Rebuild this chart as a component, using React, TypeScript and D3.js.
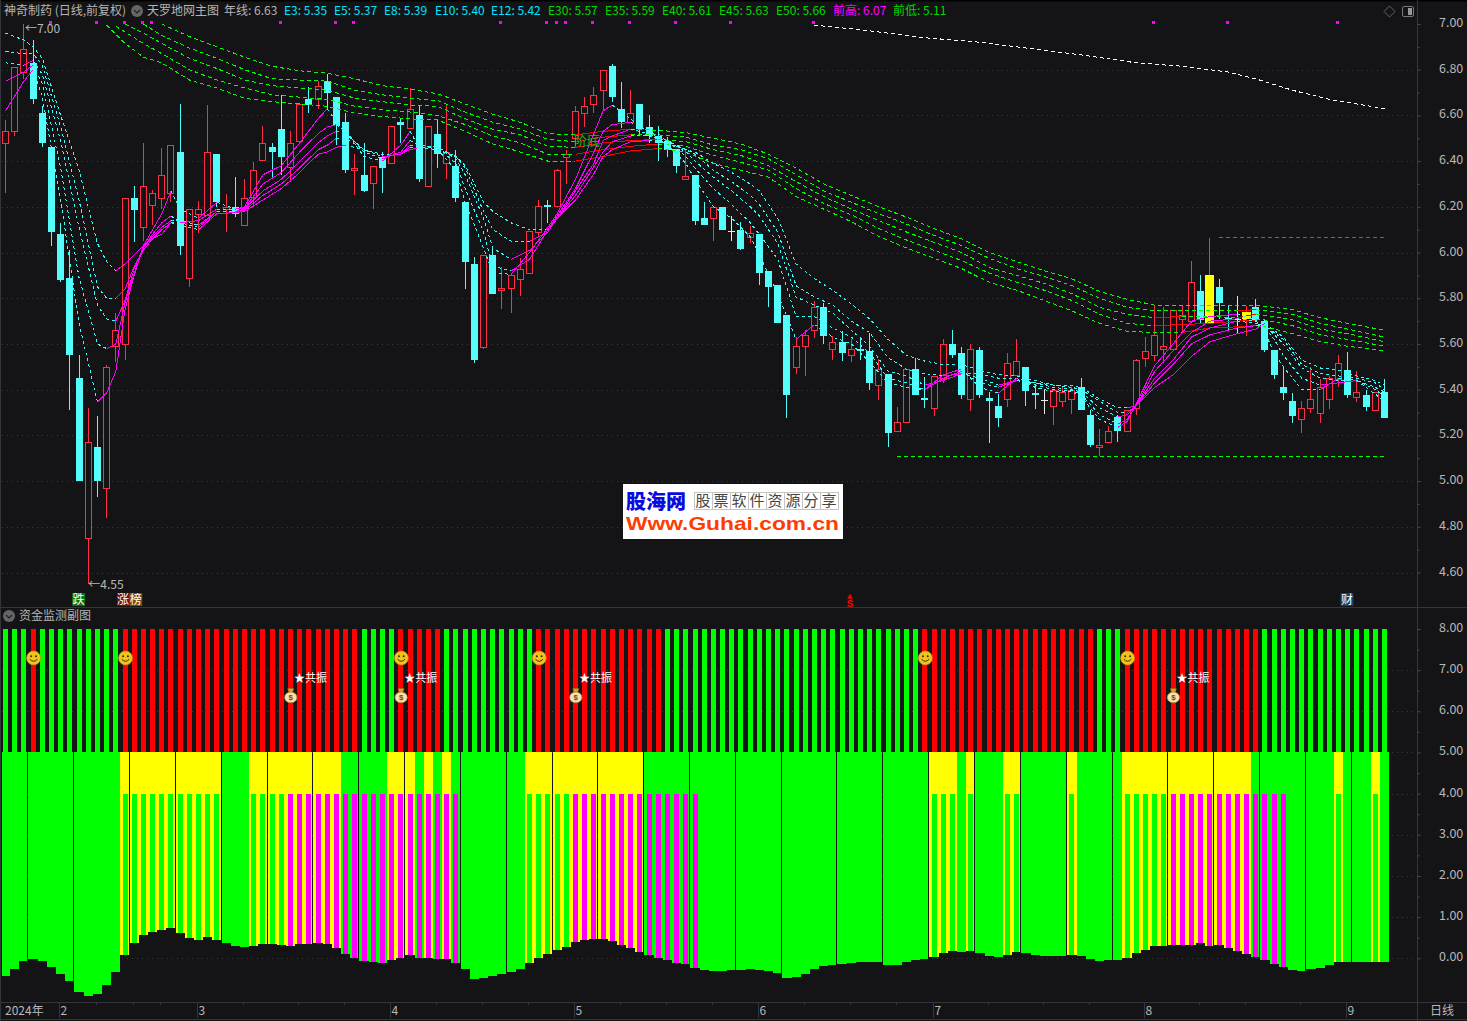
import { useEffect, useRef } from "react";
import * as d3 from "d3";

const opens = [6.48,6.53,6.79,6.83,6.61,6.46,6.08,5.89,5.45,4.75,5.15,4.97,5.59,5.60,6.24,6.11,6.21,6.24,6.26,6.44,5.89,6.17,6.165,6.43,6.19,6.20,6.12,6.245,6.405,6.46,6.54,6.375,6.49,6.67,6.67,6.75,6.68,6.57,6.36,6.34,6.305,6.42,6.39,6.57,6.545,6.60,6.29,6.52,6.39,6.38,6.22,5.95,5.585,5.99,5.835,5.845,5.885,5.91,6.09,6.21,6.205,6.42,6.50,6.61,6.65,6.71,6.815,6.63,6.57,6.65,6.55,6.51,6.49,6.455,6.32,6.34,6.15,6.15,6.20,6.095,6.10,6.07,6.08,5.92,5.86,5.725,5.50,5.59,5.66,5.76,5.58,5.61,5.55,5.58,5.57,5.42,5.47,5.22,5.26,5.49,5.365,5.32,5.45,5.60,5.56,5.36,5.575,5.365,5.33,5.36,5.465,5.50,5.385,5.355,5.33,5.35,5.36,5.41,5.29,5.15,5.17,5.28,5.22,5.32,5.54,5.55,5.58,5.58,5.71,5.70,5.83,5.69,5.85,5.715,5.71,5.71,5.76,5.70,5.575,5.41,5.35,5.27,5.32,5.30,5.36,5.445,5.485,5.37,5.375,5.31,5.39];
const closes = [6.53,6.81,6.89,6.67,6.48,6.09,5.88,5.55,5.00,5.17,5.00,5.50,5.66,6.24,6.185,6.29,6.26,6.34,6.47,6.03,6.19,6.19,6.44,6.22,6.20,6.17,6.24,6.36,6.48,6.44,6.42,6.48,6.65,6.645,6.73,6.70,6.56,6.36,6.37,6.27,6.38,6.37,6.555,6.56,6.63,6.32,6.555,6.43,6.44,6.24,5.96,5.53,5.99,5.82,5.845,5.90,5.93,6.095,6.205,6.20,6.36,6.43,6.62,6.64,6.69,6.80,6.68,6.57,6.61,6.54,6.51,6.48,6.45,6.38,6.335,6.14,6.12,6.20,6.10,6.095,6.015,6.085,5.91,5.85,5.69,5.375,5.59,5.64,5.76,5.635,5.61,5.56,5.58,5.57,5.43,5.49,5.21,5.26,5.49,5.375,5.36,5.46,5.60,5.55,5.375,5.58,5.375,5.35,5.275,5.515,5.525,5.395,5.38,5.355,5.40,5.39,5.40,5.31,5.16,5.16,5.22,5.22,5.31,5.53,5.57,5.64,5.59,5.75,5.725,5.87,5.705,5.90,5.78,5.71,5.71,5.74,5.705,5.575,5.465,5.385,5.285,5.32,5.36,5.41,5.45,5.515,5.375,5.39,5.325,5.39,5.275];
const highs = [6.58,6.81,7.00,6.93,6.64,6.46,6.13,6.01,5.55,5.32,5.285,5.51,5.735,6.24,6.29,6.48,6.275,6.457,6.47,6.65,6.19,6.225,6.645,6.43,6.255,6.33,6.32,6.395,6.555,6.48,6.69,6.53,6.65,6.725,6.75,6.78,6.68,6.61,6.43,6.48,6.38,6.44,6.555,6.59,6.72,6.64,6.555,6.585,6.645,6.45,6.22,5.98,5.99,6.02,5.935,5.90,5.975,6.095,6.23,6.23,6.365,6.45,6.64,6.68,6.725,6.80,6.825,6.745,6.71,6.65,6.60,6.555,6.505,6.455,6.45,6.34,6.22,6.20,6.20,6.16,6.135,6.115,6.08,5.92,5.86,5.725,5.63,5.66,5.79,5.78,5.635,5.655,5.62,5.63,5.65,5.535,5.47,5.325,5.49,5.54,5.455,5.46,5.62,5.66,5.585,5.60,5.585,5.39,5.38,5.56,5.62,5.50,5.425,5.405,5.40,5.41,5.41,5.45,5.31,5.23,5.24,5.29,5.31,5.535,5.63,5.77,5.76,5.75,5.77,5.965,5.90,6.065,5.885,5.765,5.81,5.765,5.795,5.705,5.575,5.505,5.385,5.35,5.50,5.445,5.46,5.55,5.565,5.48,5.40,5.39,5.445];
const lows = [6.26,6.51,6.76,6.65,6.46,6.03,5.87,5.31,5.00,4.55,4.93,4.84,5.52,5.53,6.045,6.05,6.12,6.19,6.22,5.99,5.85,6.085,6.16,6.20,6.09,6.155,6.12,6.20,6.40,6.33,6.34,6.31,6.49,6.61,6.63,6.625,6.47,6.35,6.25,6.265,6.19,6.26,6.39,6.48,6.545,6.31,6.29,6.37,6.32,6.22,5.84,5.515,5.58,5.82,5.753,5.735,5.81,5.91,6.07,6.13,6.205,6.30,6.465,6.55,6.61,6.625,6.66,6.545,6.57,6.52,6.48,6.40,6.42,6.35,6.32,6.12,6.12,6.05,6.10,6.05,6.01,6.04,5.86,5.76,5.69,5.275,5.47,5.46,5.625,5.60,5.53,5.525,5.52,5.53,5.40,5.355,5.15,5.215,5.255,5.375,5.32,5.285,5.43,5.54,5.36,5.305,5.365,5.165,5.235,5.325,5.465,5.33,5.315,5.295,5.245,5.325,5.295,5.31,5.15,5.11,5.165,5.17,5.215,5.29,5.50,5.525,5.515,5.58,5.65,5.69,5.69,5.69,5.71,5.655,5.65,5.635,5.695,5.565,5.445,5.355,5.255,5.21,5.30,5.255,5.315,5.41,5.365,5.345,5.305,5.31,5.275];
const yellowCandles = [131, 135];

const shortBars = [0,2,3,4,6,8,10,11,12,13,14,15,16,17,18,19,21,23,25,26,28,30,32,34,35,36,37,39,41,43,44,45,47,49,50,52,53,55,57,59,60,62,64,65,66,68,70,72,74,75,77,79,81,82,84,86,88,90,92,94,96,98,100,102,104,106,108,110,112,114,116,117,119,121,122,123,125,127,129,131,134,136,137,138,139,141,143,145,147,149,150];
const e3 = [6.62,6.75,6.80,6.68,6.23,5.69,5.345,5.385,5.48,5.75,5.90,6.03,6.10,6.17,6.27,6.19,6.15,6.22,6.19,6.20,6.34,6.38,6.48,6.585,6.63,6.57,6.53,6.42,6.40,6.47,6.53,6.46,6.45,6.36,6.22,6.02,5.91,5.905,6.00,6.11,6.17,6.32,6.52,6.62,6.645,6.585,6.52,6.47,6.39,6.32,6.20,6.15,6.07,5.99,5.82,5.62,5.685,5.63,5.60,5.52,5.43,5.41,5.40,5.465,5.49,5.41,5.385,5.45,5.41,5.39,5.39,5.37,5.27,5.235,5.26,5.34,5.505,5.60,5.70,5.72,5.73,5.705,5.65,5.56,5.50,5.40,5.40,5.45,5.44,5.38,5.35];
const e5 = [6.75,6.79,6.82,6.74,6.37,5.89,5.60,5.58,5.60,5.78,5.91,6.02,6.08,6.13,6.16,6.13,6.14,6.19,6.19,6.195,6.30,6.35,6.44,6.52,6.55,6.56,6.53,6.44,6.41,6.44,6.49,6.47,6.46,6.39,6.28,6.09,5.94,5.92,5.97,6.10,6.16,6.28,6.44,6.53,6.56,6.57,6.53,6.49,6.42,6.37,6.28,6.21,6.13,6.08,5.97,5.72,5.72,5.67,5.63,5.56,5.45,5.43,5.40,5.45,5.48,5.43,5.41,5.44,5.42,5.40,5.395,5.38,5.29,5.25,5.27,5.33,5.48,5.57,5.65,5.70,5.71,5.70,5.67,5.62,5.55,5.45,5.42,5.43,5.44,5.40,5.37];
const e8 = [6.83,6.82,6.84,6.78,6.49,6.11,5.77,5.71,5.70,5.79,5.93,6.02,6.07,6.11,6.14,6.14,6.12,6.18,6.18,6.19,6.27,6.32,6.40,6.48,6.51,6.53,6.52,6.45,6.42,6.43,6.47,6.47,6.46,6.41,6.34,6.15,6.02,5.97,6.01,6.09,6.15,6.27,6.39,6.49,6.51,6.54,6.52,6.49,6.44,6.40,6.33,6.27,6.20,6.16,6.04,5.805,5.77,5.735,5.66,5.59,5.48,5.46,5.42,5.44,5.47,5.45,5.42,5.44,5.43,5.41,5.40,5.39,5.32,5.28,5.29,5.33,5.45,5.53,5.63,5.67,5.70,5.69,5.68,5.64,5.60,5.495,5.45,5.44,5.44,5.41,5.39];
const e10 = [6.88,6.87,6.87,6.82,6.55,6.23,5.85,5.80,5.80,5.84,5.94,6.01,6.06,6.10,6.13,6.13,6.11,6.18,6.18,6.185,6.25,6.30,6.37,6.45,6.47,6.50,6.50,6.45,6.43,6.43,6.46,6.46,6.46,6.42,6.37,6.18,6.10,6.05,6.05,6.09,6.15,6.25,6.375,6.44,6.485,6.51,6.51,6.49,6.45,6.43,6.36,6.31,6.25,6.21,6.09,5.855,5.805,5.77,5.70,5.65,5.54,5.49,5.47,5.46,5.47,5.47,5.45,5.45,5.43,5.42,5.41,5.40,5.35,5.30,5.30,5.33,5.43,5.51,5.60,5.64,5.67,5.68,5.68,5.65,5.62,5.51,5.47,5.46,5.45,5.43,5.40];
const e12 = [6.96,6.93,6.90,6.85,6.60,6.36,6.04,5.96,5.92,5.95,5.99,6.03,6.06,6.08,6.13,6.12,6.10,6.17,6.175,6.18,6.23,6.28,6.35,6.43,6.44,6.46,6.47,6.45,6.43,6.43,6.45,6.46,6.45,6.42,6.38,6.22,6.18,6.13,6.10,6.10,6.15,6.23,6.345,6.42,6.45,6.485,6.49,6.48,6.45,6.44,6.39,6.35,6.30,6.27,6.15,5.95,5.885,5.835,5.775,5.71,5.62,5.55,5.525,5.51,5.51,5.485,5.465,5.46,5.44,5.42,5.42,5.41,5.36,5.32,5.32,5.33,5.41,5.465,5.545,5.61,5.645,5.665,5.69,5.66,5.63,5.53,5.495,5.485,5.46,5.44,5.42];

const longBars = [11,12,13,15,17,20,23,26,29,32,35,38,41,44,47,50,53,56,59,62,65,68,71,74,77,80,83,86,89,92,95,98,101,104,107,110,113,116,119,122,125,128,131,134,136,137,140,143,146,150];
const e30 = [6.995,6.955,6.915,6.855,6.83,6.755,6.72,6.675,6.66,6.65,6.64,6.61,6.595,6.585,6.58,6.53,6.475,6.44,6.40,6.40,6.42,6.445,6.455,6.44,6.39,6.36,6.33,6.245,6.19,6.135,6.07,6.02,5.975,5.93,5.87,5.835,5.79,5.745,5.69,5.655,5.65,5.65,5.67,5.675,5.68,5.675,5.645,5.61,5.59,5.57];
const e35 = [NaN,6.99,6.965,6.915,6.87,6.80,6.755,6.72,6.69,6.68,6.67,6.64,6.625,6.615,6.60,6.56,6.51,6.48,6.43,6.43,6.45,6.465,6.475,6.465,6.425,6.395,6.36,6.28,6.215,6.165,6.105,6.055,6.01,5.965,5.91,5.87,5.835,5.79,5.73,5.69,5.68,5.685,5.69,5.70,5.705,5.705,5.68,5.64,5.62,5.59];
const e40 = [NaN,NaN,7.0,6.96,6.915,6.85,6.805,6.755,6.73,6.72,6.71,6.675,6.66,6.645,6.64,6.585,6.54,6.515,6.465,6.46,6.48,6.49,6.495,6.485,6.45,6.425,6.38,6.31,6.245,6.19,6.14,6.09,6.045,6.00,5.935,5.90,5.865,5.82,5.76,5.73,5.715,5.72,5.72,5.715,5.73,5.725,5.705,5.665,5.645,5.61];
const e45 = [NaN,NaN,NaN,7.0,6.95,6.895,6.85,6.80,6.76,6.755,6.75,6.71,6.69,6.675,6.665,6.615,6.57,6.54,6.495,6.485,6.505,6.515,6.515,6.505,6.47,6.45,6.41,6.34,6.27,6.22,6.17,6.125,6.075,6.03,5.975,5.93,5.895,5.855,5.80,5.76,5.745,5.745,5.745,5.745,5.75,5.745,5.73,5.69,5.665,5.63];
const e50 = [NaN,NaN,NaN,NaN,7.0,6.945,6.90,6.855,6.815,6.795,6.785,6.76,6.73,6.715,6.695,6.65,6.605,6.57,6.52,6.515,6.53,6.54,6.535,6.525,6.50,6.475,6.43,6.37,6.30,6.25,6.20,6.155,6.105,6.06,6.00,5.96,5.92,5.885,5.83,5.795,5.77,5.77,5.77,5.77,5.77,5.765,5.75,5.715,5.69,5.66];

const yearBars = [88,93,100,106,112,117,123,128,133,136,140,144,150];
const yearLine = [6.995,6.975,6.94,6.92,6.89,6.865,6.83,6.815,6.79,6.76,6.71,6.67,6.63];

const prevHigh = { from: 132, to: 150, value: 6.07 };
const prevLow = { from: 97, to: 150, value: 5.11 };
const markerBars = [5,10,13,15,16,30,36,38,54,59,60,61,64,68,73,79,88,125,133,145];

// sub panel
const bottoms = [-0.43,-0.26,-0.07,-0.02,-0.07,-0.21,-0.38,-0.55,-0.82,-0.92,-0.87,-0.65,-0.33,0.08,0.37,0.57,0.64,0.69,0.74,0.62,0.50,0.45,0.52,0.45,0.37,0.30,0.28,0.30,0.35,0.35,0.33,0.30,0.35,0.35,0.37,0.35,0.25,0.11,0.01,-0.07,-0.09,-0.11,-0.04,0.01,0.08,0.01,0.01,-0.02,-0.02,-0.11,-0.26,-0.50,-0.48,-0.43,-0.38,-0.33,-0.26,-0.11,0.01,0.11,0.20,0.28,0.40,0.45,0.47,0.47,0.42,0.33,0.25,0.15,0.08,0.01,-0.04,-0.11,-0.14,-0.24,-0.28,-0.31,-0.31,-0.28,-0.28,-0.26,-0.28,-0.31,-0.36,-0.48,-0.46,-0.38,-0.26,-0.19,-0.16,-0.14,-0.11,-0.09,-0.09,-0.09,-0.16,-0.16,-0.09,-0.04,-0.02,0.03,0.13,0.18,0.15,0.18,0.13,0.06,0.03,0.08,0.15,0.13,0.08,0.06,0.06,0.06,0.08,0.06,-0.02,-0.07,-0.04,-0.04,0.01,0.13,0.20,0.30,0.30,0.33,0.33,0.33,0.37,0.30,0.33,0.25,0.18,0.11,0.03,-0.04,-0.14,-0.21,-0.28,-0.31,-0.26,-0.24,-0.16,-0.09,-0.09,-0.09,-0.09,-0.09,-0.09];
const redRuns = [[3,3],[13,38],[43,47],[58,71],[100,118],[122,136]];
const yellowRuns = [[13,23],[27,36],[42,44],[46,46],[48,48],[57,69],[101,103],[105,105],[109,110],[116,116],[122,135],[145,145],[149,149]];
const magentaRuns = [[31,49],[62,75],[127,139]];
const seamBars = [2,7,13,18,23,28,33,38,43,49,54,59,64,69,74,79,84,90,95,100,105,110,115,120,126,131,136,141,146];
const smileBars = [3,13,43,58,100,122];
const bagBars = [31,43,62,127];

const priceTicks = [7,6.8,6.6,6.4,6.2,6,5.8,5.6,5.4,5.2,5,4.8,4.6];
const priceMinor = [6.9,6.7,6.5,6.3,6.1,5.9,5.7,5.5,5.3,5.1,4.9,4.7];
const subTicks = [8,7,6,5,4,3,2,1,0];
const subMinor = [7.5,6.5,5.5,4.5,3.5,2.5,1.5,0.5];
const monthBars = [6,21,42,62,82,101,124,146];
const monthLabels = ["2","3","4","5","6","7","8","9"];
const minorBars = [10,14,17,26,32,37,47,52,57,67,72,77,87,92,97,107,113,118,130,135,141];

const headerTexts = ["神奇制药 (日线,前复权)","天罗地网主图","年线: 6.63","E3: 5.35","E5: 5.37","E8: 5.39","E10: 5.40","E12: 5.42","E30: 5.57","E35: 5.59","E40: 5.61","E45: 5.63","E50: 5.66","前高: 6.07","前低: 5.11"];
const headerX = [4,147,224,284,334,384,435,491,548,605,662,719,776,833,893];
const headerFill = ["#b4b4b4","#b4b4b4","#b4b4b4","#00e5ff","#00e5ff","#00e5ff","#00e5ff","#00e5ff","#00d800","#00d800","#00d800","#00d800","#00d800","#ff00ff","#00d800"];
const shareCells = ["股","票","软","件","资","源","分","享"];

const BG = "#141416";
const GRID = "#3c3c3c";
const AXIS = "#33343c";
const RED = "#ff2d45";
const CYAN = "#54fcfc";
const FONT = "'Noto Sans CJK SC','Noto Sans',sans-serif";

function inRuns(i: number, runs: number[][]) {
  return runs.some(([a, b]) => i >= a && i <= b);
}

export default function App() {
  const svgRef = useRef<SVGSVGElement | null>(null);

  useEffect(() => {
    if (!svgRef.current) return;
    const width = 1467;
    const height = 1021;
    const svg = d3.select(svgRef.current);
    svg.selectAll("*").remove();
    svg.attr("width", width).attr("height", height).style("display", "block").style("position", "absolute").style("left", 0).style("top", 0);
    svg.append("rect").attr("width", width).attr("height", height).attr("fill", BG);
    svg.append("rect").attr("width", width).attr("height", 1.5).attr("fill", "#000");

    const x = d3.scaleLinear().domain([0, 150]).range([5.5, 1384.5]);
    const yP = d3.scaleLinear().domain([4.6, 7]).range([572.5, 24]);
    const yS = d3.scaleLinear().domain([0, 8]).range([958.3, 629]);
    const px = (i: number) => Math.floor(x(i));

    // grid
    const grid = svg.append("g").attr("stroke", GRID).attr("stroke-dasharray", "1 4").attr("shape-rendering", "crispEdges");
    priceTicks.slice(1).forEach(t => grid.append("line").attr("x1", 2).attr("x2", 1417).attr("y1", Math.round(yP(t)) + 0.5).attr("y2", Math.round(yP(t)) + 0.5));
    subTicks.slice(1).forEach(t => grid.append("line").attr("x1", 2).attr("x2", 1417).attr("y1", Math.round(yS(t)) + 0.5).attr("y2", Math.round(yS(t)) + 0.5));

    // candles
    const candles = svg.append("g").attr("shape-rendering", "crispEdges");
    d3.range(opens.length).forEach(i => {
      const o = opens[i], c = closes[i], h = highs[i], l = lows[i];
      const up = c > o;
      const isYellow = yellowCandles.includes(i);
      const flat = c === o;
      const col = isYellow ? "#ffff00" : flat ? "#e8e8e8" : up ? RED : CYAN;
      const wick = isYellow ? RED : col;
      const top = Math.round(yP(Math.max(o, c)));
      const bot = Math.round(yP(Math.min(o, c)));
      const p = px(i);
      if (up && !isYellow) {
        candles.append("line").attr("x1", p + 0.5).attr("x2", p + 0.5).attr("y1", yP(h)).attr("y2", top).attr("stroke", wick);
        candles.append("line").attr("x1", p + 0.5).attr("x2", p + 0.5).attr("y1", bot).attr("y2", yP(l)).attr("stroke", wick);
        candles.append("rect").attr("x", p - 2.5).attr("y", top + 0.5).attr("width", 6).attr("height", Math.max(bot - top, 1)).attr("fill", BG).attr("stroke", col);
      } else {
        candles.append("line").attr("x1", p + 0.5).attr("x2", p + 0.5).attr("y1", yP(h)).attr("y2", yP(l)).attr("stroke", wick);
        if (flat) {
          candles.append("line").attr("x1", p - 3).attr("x2", p + 4).attr("y1", top + 0.5).attr("y2", top + 0.5).attr("stroke", col);
        } else if (isYellow) {
          candles.append("rect").attr("x", p - 4).attr("y", top).attr("width", 9).attr("height", bot - top).attr("fill", col);
        } else {
          candles.append("rect").attr("x", p - 3).attr("y", top).attr("width", 7).attr("height", Math.max(bot - top, 2)).attr("fill", col);
        }
      }
    });

    // moving averages, coloured by direction
    const lineGen = d3.line<[number, number]>().x(d => x(d[0])).y(d => yP(d[1]));
    const drawDirectional = (bars: number[], vals: number[], riseCol: string, fallCol: string, dash: string) => {
      let seg: [number, number][] = [];
      let dir = 0;
      const flush = () => {
        if (seg.length < 2) return;
        svg.append("path").attr("d", lineGen(seg)).attr("fill", "none")
          .attr("stroke", dir > 0 ? riseCol : fallCol)
          .attr("stroke-dasharray", dir > 0 ? null : dash)
          .attr("stroke-width", 1)
          .attr("shape-rendering", "crispEdges");
      };
      for (let k = 0; k < bars.length - 1; k++) {
        if (Number.isNaN(vals[k])) continue;
        const d = vals[k + 1] > vals[k] ? 1 : -1;
        if (d !== dir) {
          flush();
          seg = [[bars[k], vals[k]]];
          dir = d;
        }
        seg.push([bars[k + 1], vals[k + 1]]);
      }
      flush();
    };
    [e50, e45, e40, e35, e30].forEach(s => drawDirectional(longBars, s, "#ff0000", "#00ff00", "4 3"));
    [e12, e10, e8, e5, e3].forEach(s => drawDirectional(shortBars, s, "#ff00ff", "#33ffff", "3 3"));
    svg.append("path").attr("d", lineGen(yearBars.map((b, k) => [b, yearLine[k]] as [number, number]))).attr("fill", "none").attr("stroke", "#ffffff").attr("stroke-dasharray", "4 3").attr("shape-rendering", "crispEdges");

    // previous high / low
    const levels = svg.append("g").attr("shape-rendering", "crispEdges").attr("stroke-dasharray", "4 3");
    levels.append("line").attr("x1", x(prevHigh.from)).attr("x2", x(prevHigh.to)).attr("y1", Math.round(yP(prevHigh.value)) + 0.5).attr("y2", Math.round(yP(prevHigh.value)) + 0.5).attr("stroke", "#ff00ff");
    levels.append("line").attr("x1", x(prevLow.from)).attr("x2", x(prevLow.to)).attr("y1", Math.round(yP(prevLow.value)) + 0.5).attr("y2", Math.round(yP(prevLow.value)) + 0.5).attr("stroke", "#00ff00");

    // magenta markers at top
    svg.append("g").selectAll("rect").data(markerBars).enter().append("rect")
      .attr("x", d => px(d) - 2).attr("y", 21).attr("width", 3).attr("height", 3).attr("fill", "#ff00ff");

    // annotations
    const label = (t: string, lx: number, ly: number, fill: string, size = 12, anchor = "start") =>
      svg.append("text").attr("x", lx).attr("y", ly).attr("fill", fill).attr("font-size", size).attr("font-family", FONT).attr("text-anchor", anchor).text(t);
    label("←7.00", x(2) + 1, 33, "#b8b8b8");
    label("←4.55", x(9), 589, "#b8b8b8");
    label("阶底", 574, 145, "#18b818", 13);

    const tag = (t: string, lx: number, w: number, fill: string) => {
      svg.append("rect").attr("x", lx).attr("y", 593).attr("width", w).attr("height", 13).attr("fill", fill);
      label(t, lx + w / 2, 604, "#ffffff", 12, "middle");
    };
    tag("跌", x(8) - 7, 13, "#0a750a");
    tag("涨", x(13) - 8, 12, "#7a0a10");
    tag("榜", x(14) - 5, 13, "#7a4a10");
    tag("财", x(145) + 2, 13, "#12406e");
    svg.append("path").attr("d", d3.symbol(d3.symbolTriangle, 14)()).attr("transform", "translate(850,597)").attr("fill", "#ff0000");
    svg.append("text").attr("x", 850).attr("y", 607).attr("text-anchor", "middle").attr("fill", "#ff0000").attr("font-size", 11).attr("font-weight", 700).attr("font-family", "'Liberation Mono',monospace").text("S");

    // watermark
    const wm = svg.append("g");
    wm.append("rect").attr("x", 623).attr("y", 484).attr("width", 220).attr("height", 55).attr("fill", "#ffffff");
    wm.append("text").attr("x", 626).attr("y", 509).attr("fill", "#0a0ae0").attr("font-size", 20).attr("font-weight", 900).attr("font-family", FONT).attr("textLength", 60).text("股海网");
    shareCells.forEach((c, k) => {
      const cx = 694 + k * 18;
      wm.append("rect").attr("x", cx + 0.5).attr("y", 492.5).attr("width", 18).attr("height", 17).attr("fill", "none").attr("stroke", "#c4c4c4");
      wm.append("text").attr("x", cx + 9).attr("y", 506).attr("text-anchor", "middle").attr("fill", "#444").attr("font-size", 15).attr("font-family", FONT).text(c);
    });
    wm.append("text").attr("x", 626).attr("y", 530).attr("fill", "#ff3c00").attr("font-size", 19).attr("font-weight", 700).attr("font-family", "'Liberation Sans',sans-serif").attr("textLength", 213).attr("lengthAdjust", "spacingAndGlyphs").text("Www.Guhai.com.cn");

    // sub panel: top stripes
    const sub = svg.append("g").attr("shape-rendering", "crispEdges");
    bottoms.forEach((v, i) => {
      const p = px(i);
      sub.append("rect").attr("x", p - 2).attr("y", yS(8)).attr("width", 5).attr("height", yS(5) - yS(8))
        .attr("fill", inRuns(i, redRuns) ? "#ff0000" : "#00ff00");
      const x0 = Math.round(x(i - 0.5));
      const x1 = Math.round(x(i + 0.5)) - (seamBars.includes(i) ? 1 : 0);
      sub.append("rect").attr("x", Math.max(x0, 2)).attr("y", yS(5)).attr("width", x1 - Math.max(x0, 2)).attr("height", yS(v) - yS(5))
        .attr("fill", inRuns(i, yellowRuns) ? "#ffff00" : "#00ff00");
      sub.append("rect").attr("x", p - 2).attr("y", yS(4)).attr("width", 5).attr("height", yS(v) - yS(4))
        .attr("fill", inRuns(i, magentaRuns) ? "#ff00ff" : "#00ff00");
    });

    // smiley and money bag icons
    smileBars.forEach(b => {
      const g = svg.append("g").attr("transform", `translate(${x(b) + 0.5},658)`);
      g.append("circle").attr("r", 7).attr("fill", "#efc41c").attr("stroke", "#b8901a").attr("stroke-width", 0.7);
      g.append("circle").attr("cx", -2.4).attr("cy", -1.8).attr("r", 1).attr("fill", "#3a2c00");
      g.append("circle").attr("cx", 2.4).attr("cy", -1.8).attr("r", 1).attr("fill", "#3a2c00");
      g.append("path").attr("d", "M-3.8 1.2Q0 5.4 3.8 1.2").attr("fill", "none").attr("stroke", "#3a2c00").attr("stroke-width", 1);
    });
    bagBars.forEach(b => {
      const g = svg.append("g").attr("transform", `translate(${x(b) + 0.3},696)`);
      g.append("path").attr("d", "M-3 -7.5H3L1.8 -3.5H-1.8Z").attr("fill", "#d9a520").attr("stroke", "#8a6a18").attr("stroke-width", 0.5);
      g.append("ellipse").attr("cy", 1.4).attr("rx", 6.2).attr("ry", 5.4).attr("fill", "#f6e2ae").attr("stroke", "#a87c28").attr("stroke-width", 0.7);
      g.append("text").attr("y", 4.4).attr("text-anchor", "middle").attr("fill", "#8a3a18").attr("font-size", 8).attr("font-weight", 700).attr("font-family", "'Liberation Sans',sans-serif").text("$");
      label("★共振", x(b) + 3.5, 682, "#ffffff", 11);
    });

    // panel titles
    const chevron = (cx: number, cy: number) => {
      svg.append("circle").attr("cx", cx).attr("cy", cy).attr("r", 6).attr("fill", "#666");
      svg.append("path").attr("d", `M${cx - 3} ${cy - 1}L${cx} ${cy + 2}L${cx + 3} ${cy - 1}`).attr("fill", "none").attr("stroke", "#222").attr("stroke-width", 1.2);
    };
    chevron(137, 11);
    chevron(9, 616);
    headerTexts.forEach((t, k) => label(t, headerX[k], 15, headerFill[k], 12));
    label("资金监测副图", 19, 620, "#b4b4b4", 12);

    // top right icons
    svg.append("path").attr("d", "M1389.5 6L1395 11.5L1389.5 17L1384 11.5Z").attr("fill", "none").attr("stroke", "#666");
    svg.append("rect").attr("x", 1402.5).attr("y", 6.5).attr("width", 11).attr("height", 10).attr("rx", 1.5).attr("fill", "none").attr("stroke", "#777");
    svg.append("rect").attr("x", 1408).attr("y", 8).attr("width", 4).attr("height", 7).attr("fill", "#999");

    // frame
    const frame = svg.append("g").attr("stroke", AXIS).attr("shape-rendering", "crispEdges");
    frame.append("line").attr("x1", 0).attr("x2", width).attr("y1", 607.5).attr("y2", 607.5);
    frame.append("line").attr("x1", 0).attr("x2", width).attr("y1", 1002.5).attr("y2", 1002.5);
    frame.append("line").attr("x1", 0).attr("x2", width).attr("y1", 1019.5).attr("y2", 1019.5);
    frame.append("line").attr("x1", 0.5).attr("x2", 0.5).attr("y1", 0).attr("y2", height);

    // right axes
    const styleAxis = (g: d3.Selection<SVGGElement, unknown, null, undefined>) => {
      g.select(".domain").attr("stroke", AXIS);
      g.selectAll("line").attr("stroke", "#4a4b55");
      g.selectAll("text").attr("fill", "#b8b8b8").attr("font-size", 12.5).attr("font-family", FONT).attr("x", 21.5).attr("dy", "0.2em");
    };
    const axisP = svg.append("g").attr("transform", "translate(1417.5,0)");
    axisP.call(d3.axisRight(yP).tickValues(priceTicks).tickSize(3).tickFormat(d => d3.format(".2f")(Number(d))).tickSizeOuter(0));
    styleAxis(axisP);
    axisP.select(".domain").attr("d", "M0 0V607");
    const axisPMinor = svg.append("g").attr("transform", "translate(1417.5,0)");
    axisPMinor.call(d3.axisRight(yP).tickValues(priceMinor).tickSize(2).tickFormat(() => "").tickSizeOuter(0));
    axisPMinor.select(".domain").remove();
    axisPMinor.selectAll("line").attr("stroke", "#4a4b55");

    const axisS = svg.append("g").attr("transform", "translate(1417.5,0)");
    axisS.call(d3.axisRight(yS).tickValues(subTicks).tickSize(3).tickFormat(d => d3.format(".2f")(Number(d))).tickSizeOuter(0));
    styleAxis(axisS);
    axisS.select(".domain").attr("d", "M0 607V1021");
    const axisSMinor = svg.append("g").attr("transform", "translate(1417.5,0)");
    axisSMinor.call(d3.axisRight(yS).tickValues(subMinor).tickSize(2).tickFormat(() => "").tickSizeOuter(0));
    axisSMinor.select(".domain").remove();
    axisSMinor.selectAll("line").attr("stroke", "#4a4b55");

    // date axis
    label("2024年", 5, 1015, "#b8b8b8", 12);
    label("日线", 1430, 1015, "#b8b8b8", 12);
    monthBars.forEach((b, k) => {
      const tx = Math.round(x(b) - 1.3) + 0.5;
      frame.append("line").attr("x1", tx).attr("x2", tx).attr("y1", 1003).attr("y2", 1018);
      label(monthLabels[k], tx + 1, 1015, "#b8b8b8", 12);
    });
    minorBars.forEach(b => {
      const tx = Math.round(x(b) - 1.3) + 0.5;
      frame.append("line").attr("x1", tx).attr("x2", tx).attr("y1", 1003).attr("y2", 1005);
    });
  }, []);

  return (
    <>
      <style>{`html,body{margin:0;padding:0;background:${BG};}`}</style>
      <svg ref={svgRef} />
    </>
  );
}
